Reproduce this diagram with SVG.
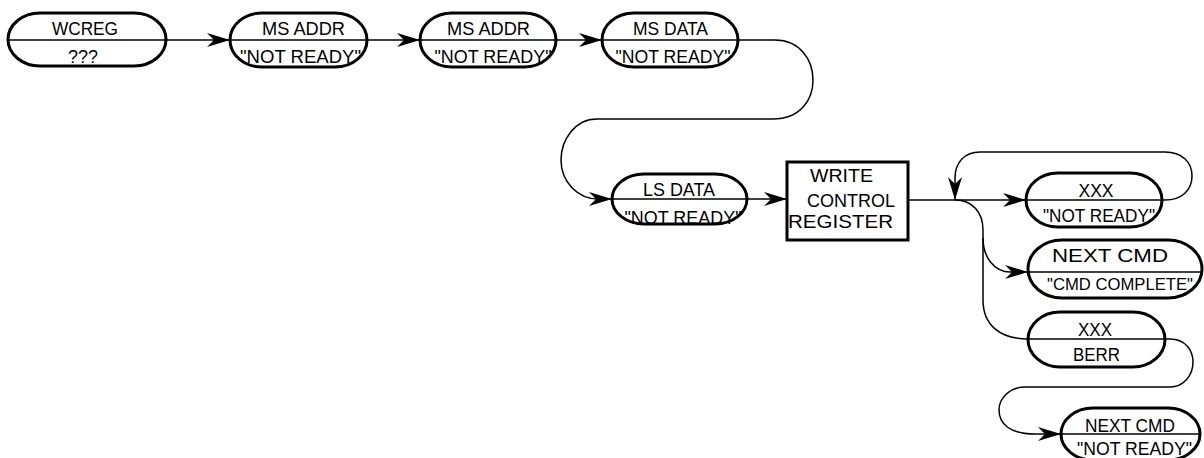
<svg xmlns="http://www.w3.org/2000/svg" width="1204" height="458" viewBox="0 0 1204 458">
<style>
.pill{fill:#fff;stroke:#000;stroke-width:3}
.box{fill:#fff;stroke:#000;stroke-width:3}
.div{stroke:#000;stroke-width:1.5}
.c{fill:none;stroke:#000;stroke-width:1.5}
text{font-family:"Liberation Sans",Arial,sans-serif;font-size:19px;fill:#000;text-anchor:middle}
</style>
<defs>
<marker id="ah" markerUnits="userSpaceOnUse" viewBox="-24 -8 25 16" markerWidth="25" markerHeight="16" refX="0" refY="0" orient="auto">
<path d="M0,0 L-23,-7 L-16,0 L-23,7 Z" fill="#000"/>
</marker>
</defs>
<rect width="1204" height="458" fill="#fff"/>
<g id="connectors">
<path class="c" d="M166,40 H230" marker-end="url(#ah)"/>
<path class="c" d="M367,40 H420" marker-end="url(#ah)"/>
<path class="c" d="M556,40 H602" marker-end="url(#ah)"/>
<path class="c" d="M738,40 H775 C800,40 813,60 813,80 C813,100 800,119 773,119 H597 C575,119 561,140 561,160 C561,182 578,199 598,199 H612" marker-end="url(#ah)"/>
<path class="c" d="M747,199 H787" marker-end="url(#ah)"/>
<path class="c" d="M908,200 H1026" marker-end="url(#ah)"/>
<path class="c" d="M1162,200 H1165 C1182,200 1192,190 1192,176 C1192,162 1182,152 1165,152 H980 C965,152 955,162 955,178 V200" marker-end="url(#ah)"/>
<path class="c" d="M955,200 C972,200 983,212 983,230 V238 C983,258 995,272 1010,272 H1028" marker-end="url(#ah)"/>
<path class="c" d="M983,238 V300 C983,325 1000,339 1028,339"/>
<path class="c" d="M1165,339 H1170 C1185,339 1193,350 1193,362 C1193,376 1183,387 1170,387 H1025 C1010,387 999,398 999,410 C999,424 1010,434 1035,434 H1061" marker-end="url(#ah)"/>
</g>
<g id="wcreg">
<rect class="pill" x="8" y="13" width="158" height="53" rx="32" ry="26.5"/>
<line class="div" x1="8" y1="40" x2="166" y2="40"/>
<text x="85" y="35" textLength="66" lengthAdjust="spacingAndGlyphs">WCREG</text>
<text x="83" y="63" textLength="30" lengthAdjust="spacingAndGlyphs">???</text>
</g>
<g id="msaddr1">
<rect class="pill" x="230" y="13" width="137" height="54" rx="32" ry="27"/>
<line class="div" x1="230" y1="40" x2="367" y2="40"/>
<text x="303.5" y="35" textLength="83" lengthAdjust="spacingAndGlyphs">MS ADDR</text>
<text x="300.5" y="63" textLength="121" lengthAdjust="spacingAndGlyphs">"NOT READY"</text>
</g>
<g id="msaddr2">
<rect class="pill" x="420" y="13" width="136" height="54" rx="32" ry="27"/>
<line class="div" x1="420" y1="40" x2="556" y2="40"/>
<text x="488.5" y="35" textLength="83" lengthAdjust="spacingAndGlyphs">MS ADDR</text>
<text x="493" y="63" textLength="117" lengthAdjust="spacingAndGlyphs">"NOT READY"</text>
</g>
<g id="msdata">
<rect class="pill" x="602" y="13" width="136" height="54" rx="32" ry="27"/>
<line class="div" x1="602" y1="40" x2="738" y2="40"/>
<text x="670.5" y="35" textLength="75" lengthAdjust="spacingAndGlyphs">MS DATA</text>
<text x="673" y="63" textLength="115" lengthAdjust="spacingAndGlyphs">"NOT READY"</text>
</g>
<g id="lsdata">
<rect class="pill" x="612" y="174" width="135" height="50" rx="32" ry="25"/>
<line class="div" x1="612" y1="199" x2="747" y2="199"/>
<text x="679" y="196" textLength="72" lengthAdjust="spacingAndGlyphs">LS DATA</text>
<text x="683" y="224" textLength="117" lengthAdjust="spacingAndGlyphs">"NOT READY"</text>
</g>
<g id="wcr">
<rect class="box" x="787" y="162" width="121" height="78"/>
<text x="841.5" y="182" textLength="63" lengthAdjust="spacingAndGlyphs">WRITE</text>
<text x="851" y="207" textLength="88" lengthAdjust="spacingAndGlyphs">CONTROL</text>
<text x="840.5" y="228" textLength="105" lengthAdjust="spacingAndGlyphs">REGISTER</text>
</g>
<g id="xxx1">
<rect class="pill" x="1026" y="173" width="136" height="54" rx="32" ry="27"/>
<line class="div" x1="1026" y1="200" x2="1162" y2="200"/>
<text x="1096" y="197" textLength="35" lengthAdjust="spacingAndGlyphs">XXX</text>
<text x="1099" y="222" textLength="112" lengthAdjust="spacingAndGlyphs">"NOT READY"</text>
</g>
<g id="nextcmd1">
<rect class="pill" x="1028" y="240" width="174" height="58" rx="34" ry="29"/>
<line class="div" x1="1028" y1="272" x2="1202" y2="272"/>
<text x="1110" y="262" textLength="116" lengthAdjust="spacingAndGlyphs">NEXT CMD</text>
<text x="1120" y="290" style="font-size:16.5px" textLength="146" lengthAdjust="spacingAndGlyphs">"CMD COMPLETE"</text>
</g>
<g id="xxx2">
<rect class="pill" x="1028" y="312" width="137" height="55" rx="32" ry="27.5"/>
<line class="div" x1="1028" y1="339" x2="1165" y2="339"/>
<text x="1095" y="336" textLength="34" lengthAdjust="spacingAndGlyphs">XXX</text>
<text x="1096.5" y="361" textLength="47" lengthAdjust="spacingAndGlyphs">BERR</text>
</g>
<g id="nextcmd2">
<rect class="pill" x="1061" y="408" width="139" height="52" rx="32" ry="26"/>
<line class="div" x1="1061" y1="434" x2="1200" y2="434"/>
<text x="1130" y="432" textLength="90" lengthAdjust="spacingAndGlyphs">NEXT CMD</text>
<text x="1134.5" y="455" textLength="115" lengthAdjust="spacingAndGlyphs">"NOT READY"</text>
</g>
</svg>
